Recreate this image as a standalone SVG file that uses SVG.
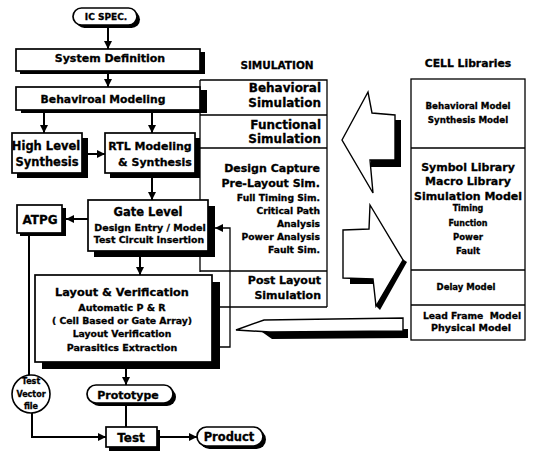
<svg xmlns="http://www.w3.org/2000/svg" width="538" height="458" viewBox="0 0 538 458">
  <style>
    .bx { fill: #fff; stroke: #000; stroke-width: 1.7; }
    .sh { fill: #000; }
    .ln { fill: none; stroke: #000; stroke-width: 2; }
    .th { fill: none; stroke: #000; stroke-width: 1.3; }
    .big { fill: #fff; stroke: #000; stroke-width: 1.4; stroke-linejoin: miter; }
    text { font-family: "DejaVu Sans", "Liberation Sans", sans-serif; font-weight: bold; fill: #000; stroke: #000; stroke-width: 0.3; }
    .c { text-anchor: middle; }
    .r { text-anchor: end; }
  </style>
  <defs>
    <marker id="ah" viewBox="0 0 10 10" refX="10" refY="5" markerWidth="9" markerHeight="8" markerUnits="userSpaceOnUse" orient="auto">
      <path d="M0,0 L10,5 L0,10 z" fill="#000" stroke="none"/>
    </marker>
  </defs>
  <rect width="538" height="458" fill="#fff"/>

  <!-- simulation column frame -->
  <g id="simulation">
    <text class="c" x="277" y="69" font-size="10.5">SIMULATION</text>
    <path class="th" d="M200,80 H327 V307 M200,80 V272 M200,115 H327 M200,148 H327 M200,271 H327 M218,307 H327"/>
    <g id="sim-behavioral">
      <text class="r" x="321" y="92" font-size="12">Behavioral</text>
      <text class="r" x="321" y="107" font-size="12">Simulation</text>
    </g>
    <g id="sim-functional">
      <text class="r" x="321" y="129" font-size="12">Functional</text>
      <text class="r" x="321" y="143" font-size="12">Simulation</text>
    </g>
    <g id="sim-prelayout">
      <text class="r" x="320" y="172" font-size="11">Design Capture</text>
      <text class="r" x="320" y="187" font-size="11">Pre-Layout Sim.</text>
      <text class="r" x="320" y="201" font-size="9.2">Full Timing Sim.</text>
      <text class="r" x="320" y="213.5" font-size="9.2">Critical Path</text>
      <text class="r" x="320" y="226.5" font-size="9.2">Analysis</text>
      <text class="r" x="320" y="240" font-size="9.2">Power Analysis</text>
      <text class="r" x="320" y="253" font-size="9.2">Fault Sim.</text>
    </g>
    <g id="sim-postlayout">
      <text class="r" x="321" y="284" font-size="11">Post Layout</text>
      <text class="r" x="321" y="299" font-size="11">Simulation</text>
    </g>
  </g>

  <!-- cell libraries column -->
  <g id="cell-libraries">
    <text class="c" x="468" y="67" font-size="10.8">CELL Libraries</text>
    <rect x="411" y="79" width="114" height="261" fill="#fff" stroke="#000" stroke-width="1.3"/>
    <path class="th" d="M411,148 H525 M411,270 H525 M411,305 H525"/>
    <g id="lib-behavioral">
      <text class="c" x="468" y="109" font-size="8.7">Behavioral Model</text>
      <text class="c" x="468" y="123" font-size="8.7">Synthesis Model</text>
    </g>
    <g id="lib-symbol">
      <text class="c" x="468" y="171" font-size="11">Symbol Library</text>
      <text class="c" x="468" y="185" font-size="11">Macro Library</text>
      <text class="c" x="468" y="200" font-size="11">Simulation Model</text>
      <text class="c" x="468" y="211" font-size="8">Timing</text>
      <text class="c" x="468" y="226" font-size="8">Function</text>
      <text class="c" x="468" y="240" font-size="8.5">Power</text>
      <text class="c" x="468" y="254" font-size="8.5">Fault</text>
    </g>
    <g id="lib-delay">
      <text class="c" x="466" y="290" font-size="8.5">Delay Model</text>
    </g>
    <g id="lib-physical">
      <text class="c" x="472" y="319" font-size="9.2" xml:space="preserve">Lead Frame  Model</text>
      <text class="c" x="471" y="331" font-size="9.5">Physical Model</text>
    </g>
  </g>

  <!-- block arrows between the columns -->
  <g id="lib-to-sim-arrow">
    <path class="sh" d="M395,120 H401 V167 H371 V160 H395 z"/>
    <path class="big" d="M342,140 L368,92 L372,113 L395,115 L395,160 L370,160 L373,193 z"/>
  </g>
  <g id="sim-to-lib-arrow">
    <path class="sh" d="M350,278 H373 V284 H350 z"/>
    <path class="sh" d="M401,258 L407,262 L380,310 L375,305 z"/>
    <path class="big" d="M343,230 L369,229 L370,205 L403,260 L376,306 L373,279 L343,278 z"/>
  </g>
  <g id="lib-to-layout-arrow">
    <path class="sh" d="M262,332 L408,329 L408,338 L272,339 z"/>
    <path class="big" d="M236,330 L264,320 L403,318 L403,331 L270,332 z"/>
  </g>

  <!-- design flow connectors -->
  <g id="connectors">
    <path class="ln" d="M108,28 V49" marker-end="url(#ah)"/>
    <path class="ln" d="M108,74 V87" marker-end="url(#ah)"/>
    <path class="ln" d="M44,113 V133" marker-end="url(#ah)"/>
    <path class="ln" d="M152,113 V133" marker-end="url(#ah)"/>
    <path class="ln" d="M88,154 H105" marker-end="url(#ah)"/>
    <path class="ln" d="M152,178 V200" marker-end="url(#ah)"/>
    <path class="ln" d="M88,219 H66" marker-end="url(#ah)"/>
    <path class="ln" d="M140,256 V275" marker-end="url(#ah)"/>
    <path class="ln" d="M126,368 V385" marker-end="url(#ah)"/>
    <path class="ln" d="M126,406 V427"/>
    <path class="ln" d="M160,437 H197" marker-end="url(#ah)"/>
    <path class="ln" d="M29,236 V375"/>
    <path class="ln" d="M32,413 V437 H106" marker-end="url(#ah)"/>
    <path class="th" stroke-width="1.6" d="M218,347 H230 V228 H215" marker-end="url(#ah)"/>
  </g>

  <!-- design flow nodes -->
  <g id="ic-spec">
    <rect class="sh" x="76" y="11" width="64" height="17" rx="8.5"/>
    <rect class="bx" x="73" y="8" width="64" height="17" rx="8.5"/>
    <text class="c" x="106" y="20" font-size="9">IC SPEC.</text>
  </g>
  <g id="system-definition">
    <rect class="sh" x="20" y="52" width="185" height="22"/>
    <rect class="bx" x="16" y="49" width="184" height="22"/>
    <text class="c" x="110" y="62" font-size="11">System Definition</text>
  </g>
  <g id="behavioral-modeling">
    <rect class="sh" x="21" y="90" width="186" height="23"/>
    <rect class="bx" x="16" y="87" width="184" height="23"/>
    <text class="c" x="103" y="102.5" font-size="10.8">Behaviroal Modeling</text>
  </g>
  <g id="high-level-synthesis">
    <rect class="sh" x="17" y="138" width="71" height="40"/>
    <rect class="bx" x="12" y="133" width="70" height="40"/>
    <text class="c" x="46" y="150" font-size="11.5">High Level</text>
    <text class="c" x="47" y="166" font-size="11.5">Synthesis</text>
  </g>
  <g id="rtl-modeling">
    <rect class="sh" x="110" y="138" width="90" height="40"/>
    <rect class="bx" x="105" y="133" width="90" height="40"/>
    <text class="c" x="150" y="150" font-size="11">RTL Modeling</text>
    <text class="c" x="155" y="166" font-size="11">&amp; Synthesis</text>
  </g>
  <g id="gate-level">
    <rect class="sh" x="94" y="206" width="121" height="51"/>
    <rect class="bx" x="88" y="200" width="120" height="51"/>
    <text class="c" x="148" y="216" font-size="11.5">Gate Level</text>
    <text class="c" x="150" y="230.5" font-size="9.5">Design Entry / Model</text>
    <text class="c" x="149" y="243" font-size="9.4">Test Circuit Insertion</text>
  </g>
  <g id="atpg">
    <rect class="sh" x="20" y="208" width="46" height="28"/>
    <rect class="bx" x="17" y="205" width="45" height="28"/>
    <text class="c" x="40" y="223.5" font-size="12">ATPG</text>
  </g>
  <g id="layout-verification">
    <rect class="sh" x="42" y="282" width="178" height="87"/>
    <rect class="bx" x="35" y="275" width="177" height="87"/>
    <text class="c" x="122" y="296" font-size="11.3">Layout &amp; Verification</text>
    <text class="c" x="122" y="310.5" font-size="9.5">Automatic P &amp; R</text>
    <text class="c" x="122" y="323.5" font-size="9.3">( Cell Based or Gate Array)</text>
    <text class="c" x="122" y="336.5" font-size="9.3">Layout Verification</text>
    <text class="c" x="122" y="350.5" font-size="9.5">Parasitics Extraction</text>
  </g>
  <g id="test-vector-file">
    <circle cx="31" cy="394" r="19" fill="#fff" stroke="#000" stroke-width="1.6"/>
    <text class="c" x="31" y="384" font-size="8">Test</text>
    <text class="c" x="31" y="397" font-size="8">Vector</text>
    <text class="c" x="31" y="409" font-size="8">file</text>
  </g>
  <g id="prototype">
    <rect class="sh" x="90" y="388" width="86" height="18" rx="9"/>
    <rect class="bx" x="87" y="385" width="86" height="18" rx="9"/>
    <text class="c" x="128" y="398.5" font-size="11">Prototype</text>
  </g>
  <g id="test">
    <rect class="sh" x="109" y="430" width="51" height="21"/>
    <rect class="bx" x="106" y="427" width="51" height="20"/>
    <text class="c" x="131" y="442" font-size="12">Test</text>
  </g>
  <g id="product">
    <rect class="sh" x="200" y="430" width="66" height="19" rx="9.5"/>
    <rect class="bx" x="197" y="427" width="66" height="19" rx="9.5"/>
    <text class="c" x="229" y="441" font-size="11.5">Product</text>
  </g>
</svg>
